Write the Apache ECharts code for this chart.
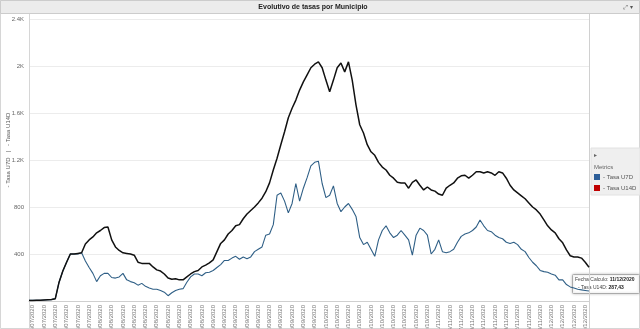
<!DOCTYPE html>
<html>
<head>
<meta charset="utf-8">
<script src="https://cdn.jsdelivr.net/npm/echarts@6/dist/echarts.min.js"></script>
<style>
html,body{margin:0;padding:0;background:#fff;}
#c{width:640px;height:329px;}
</style>
</head>
<body>
<div id="c"></div>
<script>
// Dates: daily from 15/07/2020 to 11/12/2020
const startDate = [2020, 6, 15];
const dayCount = 150;
const categories = [];
for (let i = 0; i < dayCount; i++) {
  const d = new Date(Date.UTC(startDate[0], startDate[1], startDate[2] + i));
  const dd = String(d.getUTCDate()).padStart(2, '0');
  const mm = String(d.getUTCMonth() + 1).padStart(2, '0');
  categories.push(dd + '/' + mm + '/' + d.getUTCFullYear());
}

const tasaU14D = [
  5,5,6,6,8,10,12,20,160,255,
  330,400,400,405,410,485,520,545,580,600,
  625,630,520,460,430,410,405,400,390,330,
  320,320,320,290,265,255,230,195,185,190,
  180,180,205,230,250,260,290,305,325,350,
  420,490,520,570,600,640,650,700,740,770,
  800,835,875,930,1005,1115,1215,1330,1440,1560,
  1640,1710,1795,1865,1925,1985,2015,2035,1985,1880,
  1780,1880,1985,2025,1950,2035,1880,1670,1500,1430,
  1330,1270,1240,1180,1140,1115,1070,1045,1010,1005,
  1005,960,1010,1030,985,945,970,945,935,910,
  900,960,985,1005,1045,1065,1070,1045,1070,1100,
  1100,1090,1100,1090,1070,1100,1090,1045,985,945,
  920,895,870,835,800,775,740,690,640,605,
  580,530,495,435,385,375,375,365,330,287.43
];

const tasaU7D = [
  5,5,6,6,8,10,12,20,160,255,
  330,400,400,400,410,340,285,235,165,215,
  235,235,200,195,205,235,180,165,155,135,
  150,125,110,100,100,90,75,45,70,90,
  100,105,160,205,230,230,215,240,245,260,
  285,310,345,345,365,380,355,375,360,375,
  420,440,460,560,570,650,900,920,850,750,
  830,1000,850,960,1050,1150,1180,1190,1000,880,
  900,980,830,760,800,830,780,720,540,480,
  500,440,380,520,600,640,580,540,560,600,
  560,520,390,560,620,600,560,400,440,520,
  420,410,420,440,500,550,570,580,600,630,
  690,640,600,590,560,540,530,500,490,500,
  480,440,420,370,330,300,260,250,245,230,
  220,180,180,140,120,110,100,95,90,85
];

const yTicks = [0, 400, 800, 1200, 1600, 2000, 2400];
const seriesNames = ['- Tasa U7D', '- Tasa U14D'];
const legendColors = ['#2d5f99', '#c00000'];
const titleText = 'Evolutivo de tasas por Municipio';
const yAxisTitle = '- Tasa U7D   |   - Tasa U14D';
const tooltipDate = '11/12/2020';
const tooltipValue = '287,43';

const u14Data = tasaU14D.map((v, i) => i === tasaU14D.length - 1
  ? { value: v, symbol: 'emptyCircle', symbolSize: 5, itemStyle: { color: '#fff', borderColor: '#888', borderWidth: 1 } }
  : v);

const chart = echarts.init(document.getElementById('c'), null, { renderer: 'canvas' });
const FONT = 'Liberation Sans, Arial, sans-serif';

chart.setOption({
  animation: false,
  backgroundColor: '#fff',
  textStyle: { fontFamily: FONT },
  grid: { left: 29, right: 51, top: 19, bottom: 28, containLabel: false, outerBoundsMode: 'none' },
  xAxis: {
    type: 'category',
    data: categories,
    boundaryGap: false,
    axisLine: { show: true, lineStyle: { color: '#cfcfcf', width: 1 } },
    axisTick: { show: false },
    splitLine: { show: false },
    axisLabel: {
      rotate: 90,
      fontSize: 6,
      color: '#777',
      margin: 4,
      interval: (idx) => idx % 3 === 1,
      fontFamily: FONT
    }
  },
  yAxis: {
    type: 'value',
    min: yTicks[0],
    max: yTicks[yTicks.length - 1],
    interval: 400,
    axisLine: { show: true, lineStyle: { color: '#d0d0d0' } },
    axisTick: { show: false },
    splitLine: { show: true, lineStyle: { color: '#ececec', width: 1 } },
    axisLabel: {
      fontSize: 6,
      color: '#666',
      margin: 5,
      showMinLabel: false,
      fontFamily: FONT,
      formatter: (v) => v >= 1000 ? (v / 1000) + 'K' : String(v)
    }
  },
  legend: {
    orient: 'vertical',
    left: 594,
    top: 174,
    padding: 0,
    itemWidth: 6,
    itemHeight: 6,
    itemGap: 5,
    icon: 'rect',
    textStyle: { fontSize: 6, color: '#555', fontFamily: FONT, padding: [0, 0, 0, -2] },
    data: [
      { name: seriesNames[0], itemStyle: { color: legendColors[0] } },
      { name: seriesNames[1], itemStyle: { color: legendColors[1] } }
    ]
  },
  series: [
    {
      name: seriesNames[0],
      type: 'line',
      data: tasaU7D,
      symbol: 'none',
      smooth: false,
      lineStyle: { color: '#2f5f86', width: 1.1 },
      itemStyle: { color: '#2f5f86' },
      z: 2
    },
    {
      name: seriesNames[1],
      type: 'line',
      data: u14Data,
      symbol: 'none',
      showSymbol: true,
      smooth: false,
      lineStyle: { color: '#111', width: 1.5 },
      itemStyle: { color: '#111' },
      z: 3
    }
  ],
  graphic: [
    { type: 'rect', shape: { x: 0.5, y: 0.5, width: 639, height: 328 }, style: { fill: 'none', stroke: '#d6d6d6', lineWidth: 1 }, z: 0 },
    { type: 'rect', shape: { x: 0.5, y: 0.5, width: 639, height: 13 }, style: { fill: '#ececec', stroke: '#cccccc', lineWidth: 1 }, z: 10 },
    { type: 'text', x: 313, y: 7, style: { text: titleText, fontSize: 7, fontWeight: 'bold', fill: '#222', align: 'center', verticalAlign: 'middle', fontFamily: FONT }, z: 11 },
    { type: 'text', x: 628, y: 7, style: { text: '⤢ ▾', fontSize: 6, fill: '#555', align: 'center', verticalAlign: 'middle', fontFamily: 'DejaVu Sans' }, z: 11 },
    { type: 'text', x: 8, y: 150, rotation: Math.PI / 2, style: { text: yAxisTitle, fontSize: 6, fill: '#555', align: 'center', verticalAlign: 'middle', fontFamily: FONT }, z: 11 },
    { type: 'line', shape: { x1: 589.5, y1: 14, x2: 589.5, y2: 329 }, style: { stroke: '#d0d0d0', lineWidth: 1 }, z: 1 },
    { type: 'line', shape: { x1: 29.5, y1: 14, x2: 29.5, y2: 329 }, style: { stroke: '#d6d6d6', lineWidth: 1 }, z: 1 },
    { type: 'rect', shape: { x: 591, y: 148, width: 49, height: 47 }, style: { fill: '#efefef', stroke: '#e2e2e2', lineWidth: 1 }, z: 1 },
    { type: 'text', x: 594, y: 155, style: { text: '▸', fontSize: 6, fill: '#666', verticalAlign: 'middle', fontFamily: 'DejaVu Sans' }, z: 2 },
    { type: 'text', x: 594, y: 167, style: { text: 'Metrics', fontSize: 6, fill: '#666', verticalAlign: 'middle', fontFamily: FONT }, z: 2 },
    {
      type: 'group', z: 20,
      children: [
        { type: 'rect', shape: { x: 572.5, y: 274.5, width: 67, height: 19, r: 1 }, style: { fill: '#fff', stroke: '#aaaaaa', lineWidth: 1, shadowBlur: 3, shadowColor: 'rgba(0,0,0,0.2)' } },
        { type: 'text', x: 575, y: 280, style: { text: '{n|Fecha Calculo: }{b|' + tooltipDate + '}', verticalAlign: 'middle', rich: { n: { fontSize: 5, fill: '#444', fontFamily: FONT }, b: { fontSize: 5, fontWeight: 'bold', fill: '#222', fontFamily: FONT } } } },
        { type: 'text', x: 578, y: 288, style: { text: '{n|- Tasa U14D: }{b|' + tooltipValue + '}', verticalAlign: 'middle', rich: { n: { fontSize: 5, fill: '#444', fontFamily: FONT }, b: { fontSize: 5, fontWeight: 'bold', fill: '#222', fontFamily: FONT } } } }
      ]
    }
  ]
});
</script>
</body>
</html>
